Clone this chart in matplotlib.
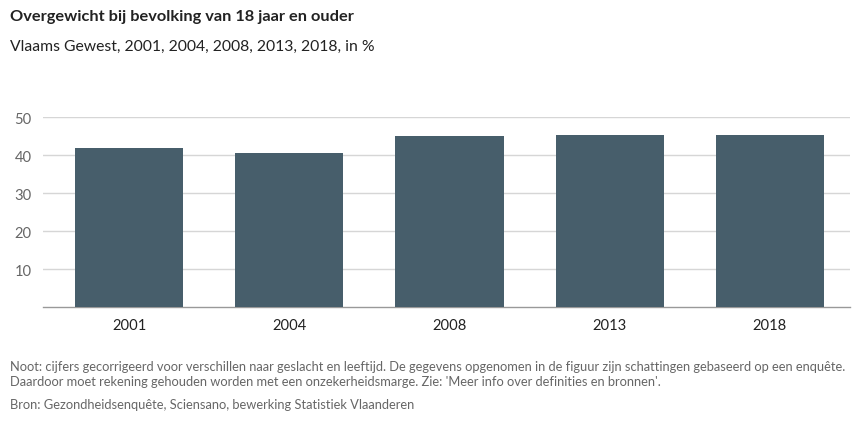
import matplotlib.pyplot as plt

# Data
years = ['2001', '2004', '2008', '2013', '2018']
overgewicht = [41.9, 40.6, 45.0, 45.3, 45.3]
yticks = [10, 20, 30, 40, 50]

plt.rcParams['font.family'] = ['Lato', 'DejaVu Sans']

fig = plt.figure(figsize=(8.56, 4.35), dpi=100)
ax = fig.add_axes([43 / 856, 1 - 308.3 / 435, (850 - 43) / 856, (308.3 - 118.3) / 435])

x = range(len(years))
ax.bar(x, overgewicht, width=0.675, color='#475e6b', zorder=3)

ax.set_xlim(-0.5 - 6 / 160, len(years) - 0.5)
ax.set_ylim(0, 50)
ax.set_yticks(yticks)
ax.set_yticklabels([str(v) for v in yticks], fontsize=10.6, color='#666666')
ax.set_xticks(list(x))
ax.set_xticklabels(years, fontsize=10.6, color='#222222')
ax.tick_params(axis='both', length=0)
ax.tick_params(axis='y', pad=8)
ax.tick_params(axis='x', pad=8)

ax.grid(axis='y', color='#d6d6d6', linewidth=1, zorder=0)
for s in ['top', 'right', 'left']:
    ax.spines[s].set_visible(False)
ax.spines['bottom'].set_color('#999999')
ax.spines['bottom'].set_linewidth(1)

# Titles
fig.text(10 / 856, 1 - 17 / 435, 'Overgewicht bij bevolking van 18 jaar en ouder',
         fontsize=11.75, fontweight='bold', color='#222222', va='center')
fig.text(10 / 856, 1 - 47 / 435, 'Vlaams Gewest, 2001, 2004, 2008, 2013, 2018, in %',
         fontsize=11.3, color='#222222', va='center')

# Notes
note1 = ("Noot: cijfers gecorrigeerd voor verschillen naar geslacht en leeftijd. "
         "De gegevens opgenomen in de figuur zijn schattingen gebaseerd op een enquête.")
note2 = "Daardoor moet rekening gehouden worden met een onzekerheidsmarge. Zie: 'Meer info over definities en bronnen'."
bron = "Bron: Gezondheidsenquête, Sciensano, bewerking Statistiek Vlaanderen"
fig.text(10 / 856, 1 - 367 / 435, note1, fontsize=9.3, color='#666666', va='center')
fig.text(10 / 856, 1 - 382 / 435, note2, fontsize=9.3, color='#666666', va='center')
fig.text(10 / 856, 1 - 405 / 435, bron, fontsize=9.3, color='#666666', va='center')

plt.savefig('out.png', dpi=100)
